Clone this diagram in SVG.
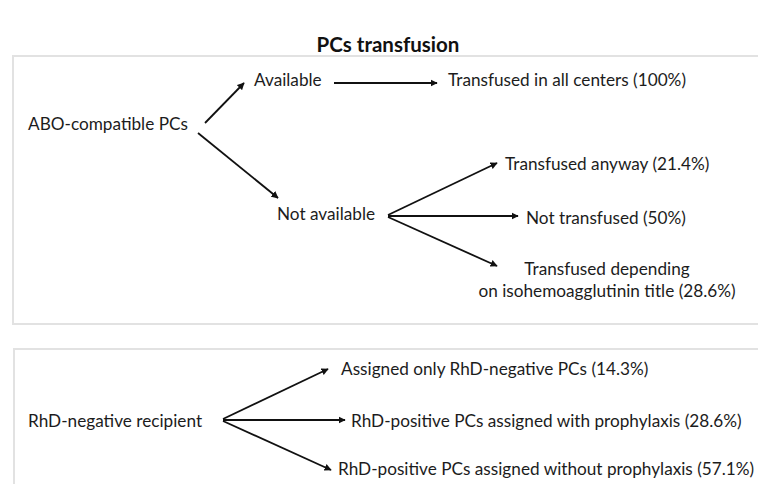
<svg xmlns="http://www.w3.org/2000/svg" width="758" height="484" viewBox="0 0 758 484">
<style>
.t{font-family:Lato,"Liberation Sans",sans-serif;font-size:17.2px;fill:#1c1c1c}
.title{font-family:Lato,"Liberation Sans",sans-serif;font-size:20.5px;font-weight:bold;fill:#111}
.box{fill:#fff;stroke:#e2e2e2;stroke-width:2}
.c{stroke:#111;stroke-width:1.8;fill:none;marker-end:url(#ah)}
</style>
<defs>
<marker id="ah" viewBox="0 0 10 10" refX="9" refY="5" markerWidth="4" markerHeight="4" orient="auto" markerUnits="strokeWidth">
<path d="M0,0 L10,5 L0,10 z" fill="#111"/>
</marker>
</defs>
<rect width="758" height="484" fill="#fff"/>
<text class="title" x="388" y="52" text-anchor="middle">PCs transfusion</text>
<rect class="box" x="13" y="56" width="760" height="268"/>
<rect class="box" x="14" y="349" width="760" height="150"/>
<g id="connectors">
<line class="c" x1="205" y1="123" x2="244" y2="83"/>
<line class="c" x1="198" y1="133" x2="278" y2="198"/>
<line class="c" x1="334" y1="83" x2="437" y2="83"/>
<line class="c" x1="388" y1="215" x2="497" y2="163"/>
<line class="c" x1="388" y1="216" x2="518" y2="216"/>
<line class="c" x1="388" y1="217" x2="497" y2="266"/>
<line class="c" x1="223" y1="419" x2="328" y2="369"/>
<line class="c" x1="223" y1="420" x2="345" y2="420"/>
<line class="c" x1="223" y1="421" x2="331" y2="470"/>
</g>
<g id="n-abo"><text class="t" x="28" y="130">ABO-compatible PCs</text></g>
<g id="n-available"><text class="t" x="254" y="86">Available</text></g>
<g id="n-all"><text class="t" x="448" y="86">Transfused in all centers (100%)</text></g>
<g id="n-notavail"><text class="t" x="277" y="220">Not available</text></g>
<g id="n-anyway"><text class="t" x="505" y="170">Transfused anyway (21.4%)</text></g>
<g id="n-nottrans"><text class="t" x="526" y="224">Not transfused (50%)</text></g>
<g id="n-depending"><text class="t" x="607" y="275" text-anchor="middle">Transfused depending</text><text class="t" x="607" y="297" text-anchor="middle">on isohemoagglutinin title (28.6%)</text></g>
<g id="n-rhd"><text class="t" x="28" y="427">RhD-negative recipient</text></g>
<g id="n-only"><text class="t" x="341" y="375">Assigned only RhD-negative PCs (14.3%)</text></g>
<g id="n-with"><text class="t" x="351" y="427">RhD-positive PCs assigned with prophylaxis (28.6%)</text></g>
<g id="n-without"><text class="t" x="338" y="475">RhD-positive PCs assigned without prophylaxis (57.1%)</text></g>
</svg>
